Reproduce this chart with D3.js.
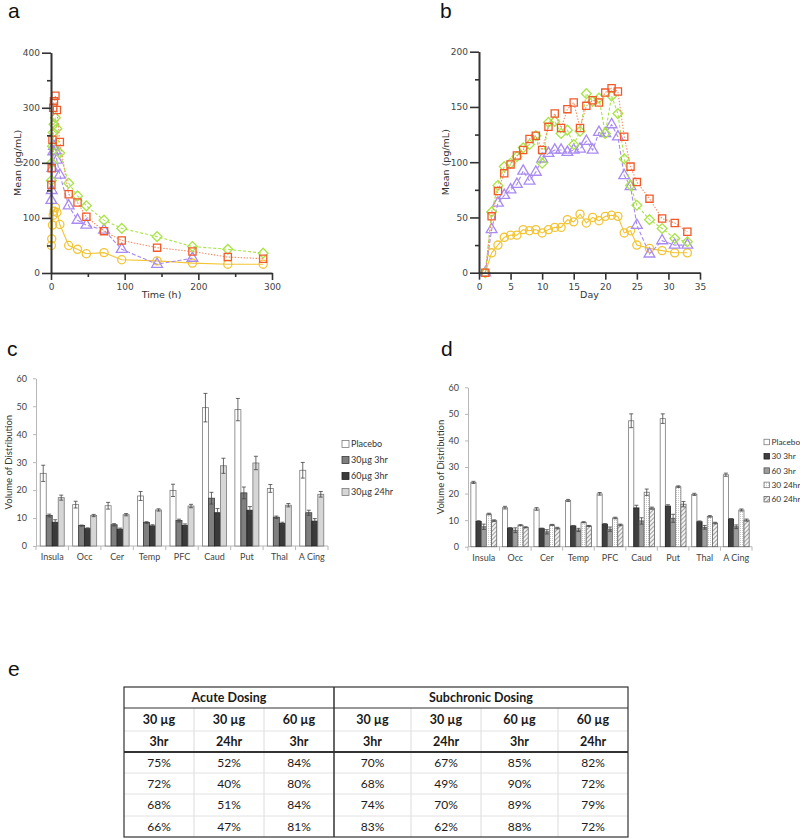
<!DOCTYPE html>
<html lang="en">
<head>
<meta charset="utf-8">
<title>Plasma levels, distribution volume and occupancy</title>
<script src="https://d3js.org/d3.v7.min.js"></script>
<style>
  body { margin: 0; background: #fff; }
  svg { display: block; font-family: "DejaVu Sans", sans-serif; }
  .panel-label { font-family: "Liberation Sans", Arial, sans-serif; font-size: 21px; fill: #111; }
  .pk-axis path, .pk-axis line { stroke: #333; stroke-width: 1.6; }
  .pk-axis text { font-size: 9px; fill: #444; font-family: "DejaVu Sans", sans-serif; }
  .pk-title { font-size: 9.5px; fill: #333; }
  .bar-axis path, .bar-axis line { stroke: #b8b8b8; }
  .bar-axis text { font-size: 9px; fill: #444; font-family: Lato, "Open Sans", sans-serif; }
  .bar-title { font-size: 9.5px; fill: #333; font-family: Lato, "Open Sans", sans-serif; }
  .legend text { font-size: 9px; fill: #333; font-family: Lato, "Open Sans", sans-serif; }
  .legend.narrow text { font-size: 8.3px; }
  .tbl text { font-family: Lato, "Open Sans", sans-serif; fill: #1a1a1a; }
</style>
</head>
<body>
<svg id="fig"></svg>
<script>
// ---- panel a: single dose time course (pg/mL)
var pkTimes  = [0.5, 1, 2, 3, 4, 6, 8, 12, 24, 36, 48, 72, 96, 144, 192, 240, 288];
var pkGreen  = [168, 200, 230, 255, 270, 282, 262, 218, 163, 140, 122, 96, 81, 66, 48, 43, 36];
var pkOrange = [160, 190, 242, 300, 312, 322, 296, 238, 143, 128, 102, 76, 59, 46, 39, 29, 26];
var pkPurple = [132, 150, 190, 220, 230, 222, 205, 178, 122, 96, 87, 78, 43, 16, 27, null, null];
var pkYellow = [50, 62, 87, 105, 112, 119, 110, 88, 50, 43, 35, 37, 24, 22, 18, 16, 16];

// ---- panel b: repeated dosing by day
var days      = [1, 2, 3, 4, 5, 6, 7, 8, 9, 10, 11, 12, 13, 14, 15, 16, 17, 18, 19, 20, 21, 22, 23, 24, 25, 27, 29, 31, 33];
var dayGreen  = [0, 55, 79, 96, 99, 105, 113, 116, 124, 99, 136, 137, 126, 129, 116, 128, 162, 155, 158, 126, 160, 144, 103, 79, 61, 48, 40, 31, 28];
var dayOrange = [0, 51, 74, 90, 98, 106, 111, 121, 124, 111, 132, 144, 131, 148, 154, 131, 151, 156, 154, 163, 167, 164, 123, 96, 82, 67, 49, 45, 37];
var dayPurple = [0, 39, 63, 70, 75, 80, 92, 83, 91, 103, 108, 111, 111, 109, 111, 112, 119, 111, 127, 126, 134, 123, 88, 78, 43, 17, 29, 25, 25];
var dayYellow = [0, 18, 25, 32, 34, 34, 39, 38, 39, 36, 39, 41, 41, 48, 46, 53, 45, 50, 47, 51, 52, 51, 36, 38, 25, 22, 20, 18, 18];

// ---- panels c and d: volume of distribution per region
var regions = ["Insula", "Occ", "Cer", "Temp", "PFC", "Caud", "Put", "Thal", "A Cing"];

var acuteNames = ["Placebo", "30µg 3hr", "60µg 3hr", "30µg 24hr"];
var acutePlacebo = [26.0, 14.8, 14.4, 17.9, 19.9, 49.5, 48.8, 20.6, 27.1];
var acutePlaceboErr = [2.9, 1.2, 1.2, 1.6, 2.2, 5.1, 4.0, 1.4, 2.8];
var acute30_3 = [10.9, 7.3, 7.6, 8.4, 9.1, 17.1, 19.0, 10.3, 11.9];
var acute30_3Err = [0.5, 0.2, 0.4, 0.3, 0.5, 2.1, 2.1, 0.4, 0.9];
var acute60_3 = [8.5, 6.2, 6.0, 7.2, 7.4, 11.9, 12.8, 8.1, 8.9];
var acute60_3Err = [0.9, 0.3, 0.4, 0.4, 0.5, 1.5, 1.3, 0.4, 0.9];
var acute30_24 = [17.3, 10.9, 11.2, 12.9, 14.3, 28.7, 29.7, 14.6, 18.5];
var acute30_24Err = [0.9, 0.4, 0.4, 0.4, 0.6, 2.7, 2.4, 0.6, 1.0];

var subNames = ["Placebo", "30 3hr", "60 3hr", "30 24hr", "60 24hr"];
var subPlacebo = [24.2, 14.7, 14.2, 17.4, 19.9, 47.4, 48.2, 19.7, 27.1];
var subPlaceboErr = [0.4, 0.5, 0.5, 0.4, 0.5, 2.6, 1.8, 0.4, 0.6];
var sub30_3 = [9.5, 7.0, 6.8, 7.8, 8.5, 14.6, 15.3, 9.4, 10.4];
var sub30_3Err = [0.3, 0.2, 0.2, 0.2, 0.2, 1.0, 0.5, 0.3, 0.2];
var sub60_3 = [7.5, 6.2, 5.6, 6.3, 6.6, 9.7, 10.7, 7.3, 7.5];
var sub60_3Err = [1.0, 0.9, 0.8, 0.6, 0.8, 1.2, 1.5, 0.7, 0.7];
var sub30_24 = [12.3, 8.1, 8.2, 9.2, 10.8, 20.5, 22.6, 11.4, 13.8];
var sub30_24Err = [0.3, 0.2, 0.2, 0.2, 0.3, 1.2, 0.3, 0.3, 0.4];
var sub60_24 = [9.8, 7.3, 7.0, 7.8, 8.2, 14.5, 16.0, 8.9, 10.0];
var sub60_24Err = [0.3, 0.2, 0.3, 0.2, 0.3, 0.4, 1.0, 0.3, 0.4];

// ---- panel e: occupancy table
var acuteCols = [["30 µg", "3hr"], ["30 µg", "24hr"], ["60 µg", "3hr"]];
var subCols = [["30 µg", "3hr"], ["30 µg", "24hr"], ["60 µg", "3hr"], ["60 µg", "24hr"]];
var occAcute30_3 = ["75%", "72%", "68%", "66%"];
var occAcute30_24 = ["52%", "40%", "51%", "47%"];
var occAcute60_3 = ["84%", "80%", "84%", "81%"];
var occSub30_3 = ["70%", "68%", "74%", "83%"];
var occSub30_24 = ["67%", "49%", "70%", "62%"];
var occSub60_3 = ["85%", "90%", "89%", "88%"];
var occSub60_24 = ["82%", "72%", "79%", "72%"];

var width = 800, height = 839;
var svg = d3.select("#fig").attr("width", width).attr("height", height);

// patterns for the hatched bars
var defs = svg.append("defs");
var dots = defs.append("pattern").attr("id", "dots").attr("patternUnits", "userSpaceOnUse")
    .attr("width", 2).attr("height", 2);
dots.append("rect").attr("width", 2).attr("height", 2).attr("fill", "#fff");
dots.append("rect").attr("width", 1).attr("height", 1).attr("fill", "#c8c8c8");
var hatch = defs.append("pattern").attr("id", "hatch").attr("patternUnits", "userSpaceOnUse")
    .attr("width", 3).attr("height", 3).attr("patternTransform", "rotate(45)");
hatch.append("rect").attr("width", 3).attr("height", 3).attr("fill", "#f2f2f2");
hatch.append("line").attr("x1", 0).attr("y1", 0).attr("x2", 0).attr("y2", 3)
    .attr("stroke", "#777").attr("stroke-width", 1.3);

var squareDiamond = {
    draw: function (ctx, size) {
        var r = Math.sqrt(size / 2);
        ctx.moveTo(0, -r); ctx.lineTo(r, 0); ctx.lineTo(0, r); ctx.lineTo(-r, 0); ctx.closePath();
    }
};

var pkStyles = [
    { color: "#f2c536", line: "#f2c536", dash: null, symbol: d3.symbolCircle, size: 52 },
    { color: "#a98af2", line: "#a98af2", dash: "4,2", symbol: d3.symbolTriangle, size: 50 },
    { color: "#a8e446", line: "#a8e446", dash: "3,2", symbol: squareDiamond, size: 48 },
    { color: "#f25a2a", line: "#f39068", dash: "1.5,1.5", symbol: d3.symbolSquare, size: 52 }
];

function drawLineChart(o) {
    var g = svg.append("g");
    var x = d3.scaleLinear().domain(o.xDomain).range([o.left, o.right]);
    var y = d3.scaleLinear().domain(o.yDomain).range([o.bottom, o.top]);

    o.series.forEach(function (vals, i) {
        var st = pkStyles[i];
        var pts = o.xs.map(function (t, j) { return { t: t, v: vals[j] }; })
            .filter(function (d) { return d.v != null; });
        g.append("path").datum(pts)
            .attr("d", d3.line().x(function (d) { return x(d.t); }).y(function (d) { return y(d.v); }))
            .attr("fill", "none").attr("stroke", st.line).attr("stroke-width", 1.1)
            .attr("stroke-dasharray", st.dash);
        g.selectAll(null).data(pts).join("path")
            .attr("transform", function (d) { return "translate(" + x(d.t) + "," + y(d.v) + ")"; })
            .attr("d", d3.symbol().type(st.symbol).size(st.size))
            .attr("fill", "none").attr("stroke", st.color).attr("stroke-width", 1.3);
    });

    g.append("g").attr("class", "pk-axis").attr("transform", "translate(0," + o.bottom + ")")
        .call(d3.axisBottom(x).tickValues(o.xMinor).tickFormat("").tickSize(4).tickSizeOuter(0));
    g.append("g").attr("class", "pk-axis").attr("transform", "translate(0," + o.bottom + ")")
        .call(d3.axisBottom(x).tickValues(o.xMajor).tickSize(7).tickSizeOuter(0).tickPadding(4));
    g.append("g").attr("class", "pk-axis").attr("transform", "translate(" + o.left + ",0)")
        .call(d3.axisLeft(y).tickValues(o.yMinor).tickFormat("").tickSize(4).tickSizeOuter(0));
    g.append("g").attr("class", "pk-axis").attr("transform", "translate(" + o.left + ",0)")
        .call(d3.axisLeft(y).tickValues(o.yMajor).tickSize(9).tickSizeOuter(0).tickPadding(2));

    g.append("text").attr("class", "pk-title")
        .attr("transform", "translate(" + (o.left - 30) + "," + ((o.top + o.bottom) / 2) + ") rotate(-90)")
        .attr("text-anchor", "middle").text(o.yTitle);
    g.append("text").attr("class", "pk-title")
        .attr("x", (o.left + o.right) / 2).attr("y", o.bottom + 25)
        .attr("text-anchor", "middle").text(o.xTitle);
}

drawLineChart({
    left: 51, right: 272, top: 52.7, bottom: 273,
    xDomain: [0, 300], yDomain: [0, 400],
    xMajor: [0, 100, 200, 300], xMinor: [50, 150, 250],
    yMajor: [0, 100, 200, 300, 400], yMinor: [50, 150, 250, 350],
    xs: pkTimes, series: [pkYellow, pkPurple, pkGreen, pkOrange],
    yTitle: "Mean (pg/mL)", xTitle: "Time (h)"
});

drawLineChart({
    left: 479, right: 700, top: 51.7, bottom: 272.7,
    xDomain: [0, 35], yDomain: [0, 200],
    xMajor: [0, 5, 10, 15, 20, 25, 30, 35], xMinor: [],
    yMajor: [0, 50, 100, 150, 200], yMinor: [25, 75, 125, 175],
    xs: days, series: [dayYellow, dayPurple, dayGreen, dayOrange],
    yTitle: "Mean (pg/mL)", xTitle: "Day"
});

function drawBarChart(o) {
    var g = svg.append("g");
    var x0 = d3.scaleBand().domain(regions).range([o.left, o.right])
        .paddingInner(o.padIn).paddingOuter(o.padOut);
    var x1 = d3.scaleBand().domain(d3.range(o.series.length)).range([0, x0.bandwidth()]);
    var y = d3.scaleLinear().domain([0, 60]).range([o.bottom, o.top]);

    g.append("g").attr("class", "bar-axis").attr("transform", "translate(" + o.left + ",0)")
        .call(d3.axisLeft(y).tickValues([0, 10, 20, 30, 40, 50, 60]).tickSize(3).tickSizeOuter(0).tickPadding(6));

    var xa = g.append("g").attr("class", "bar-axis").attr("transform", "translate(0," + o.bottom + ")")
        .call(d3.axisBottom(x0).tickSize(0).tickPadding(8));
    xa.select(".domain").attr("d", "M" + o.left + ",0H" + o.right);
    xa.selectAll(".sep").data(d3.range(regions.length + 1)).join("line")
        .attr("x1", function (i) { return o.left + i * (o.right - o.left) / regions.length; })
        .attr("x2", function (i) { return o.left + i * (o.right - o.left) / regions.length; })
        .attr("y1", 0).attr("y2", 4).attr("stroke", "#b8b8b8");

    o.series.forEach(function (s, si) {
        var grp = g.append("g");
        grp.selectAll("rect").data(s.values).join("rect")
            .attr("x", function (d, i) { return x0(regions[i]) + x1(si); })
            .attr("y", function (d) { return y(d); })
            .attr("width", x1.bandwidth())
            .attr("height", function (d) { return o.bottom - y(d); })
            .attr("fill", s.fill).attr("stroke", s.stroke).attr("stroke-width", 0.8);
        var eb = grp.selectAll("g.err").data(s.values).join("g").attr("class", "err")
            .attr("stroke", "#444").attr("stroke-width", 0.8);
        eb.append("line")
            .attr("x1", function (d, i) { return x0(regions[i]) + x1(si) + x1.bandwidth() / 2; })
            .attr("x2", function (d, i) { return x0(regions[i]) + x1(si) + x1.bandwidth() / 2; })
            .attr("y1", function (d, i) { return y(d - s.err[i]); })
            .attr("y2", function (d, i) { return y(d + s.err[i]); });
        [-1, 1].forEach(function (sgn) {
            eb.append("line")
                .attr("x1", function (d, i) { return x0(regions[i]) + x1(si) + x1.bandwidth() / 2 - 2; })
                .attr("x2", function (d, i) { return x0(regions[i]) + x1(si) + x1.bandwidth() / 2 + 2; })
                .attr("y1", function (d, i) { return y(d + sgn * s.err[i]); })
                .attr("y2", function (d, i) { return y(d + sgn * s.err[i]); });
        });
    });

    g.append("text").attr("class", "bar-title")
        .attr("transform", "translate(" + o.titleX + "," + ((o.top + o.bottom) / 2) + ") rotate(-90)")
        .attr("text-anchor", "middle").text("Volume of Distribution");

    var lg = g.append("g").attr("class", "legend" + (o.narrow ? " narrow" : ""));
    var items = lg.selectAll("g").data(o.series).join("g")
        .attr("transform", function (d, i) { return "translate(" + o.legendX + "," + (o.legendY + i * o.legendStep) + ")"; });
    items.append("rect").attr("x", 0).attr("y", -o.swatch / 2).attr("width", o.swatch).attr("height", o.swatch)
        .attr("fill", function (d) { return d.fill; }).attr("stroke", function (d) { return d.stroke; })
        .attr("stroke-width", 0.8);
    items.append("text").attr("x", o.swatch + 2).attr("dy", "0.35em").text(function (d, i) { return o.names[i]; });
}

drawBarChart({
    left: 36, right: 328, top: 378.3, bottom: 546, padIn: 0.26, padOut: 0.13,
    titleX: 12, legendX: 342, legendY: 444, legendStep: 16, names: acuteNames, swatch: 7,
    series: [
        { values: acutePlacebo, err: acutePlaceboErr, fill: "#ffffff", stroke: "#7a7a7a" },
        { values: acute30_3, err: acute30_3Err, fill: "#7f7f7f", stroke: "#3a3a3a" },
        { values: acute60_3, err: acute60_3Err, fill: "#3a3a3a", stroke: "#222" },
        { values: acute30_24, err: acute30_24Err, fill: "#d6d6d6", stroke: "#7a7a7a" }
    ]
});

drawBarChart({
    left: 468, right: 752, top: 387.3, bottom: 546.7, padIn: 0.18, padOut: 0.09,
    titleX: 444, legendX: 764, legendY: 442, legendStep: 14.3, names: subNames, swatch: 5.5, narrow: true,
    series: [
        { values: subPlacebo, err: subPlaceboErr, fill: "#ffffff", stroke: "#7a7a7a" },
        { values: sub30_3, err: sub30_3Err, fill: "#3f3f3f", stroke: "#222" },
        { values: sub60_3, err: sub60_3Err, fill: "#9c9c9c", stroke: "#555" },
        { values: sub30_24, err: sub30_24Err, fill: "url(#dots)", stroke: "#7a7a7a" },
        { values: sub60_24, err: sub60_24Err, fill: "url(#hatch)", stroke: "#666" }
    ]
});

// ---- table e
var colEdges = [124, 194, 264, 334, 411, 481, 558, 628];
var rowEdges = [687, 708, 731, 752, 773, 794, 816, 837];
var tbl = svg.append("g").attr("class", "tbl");
var cols = [occAcute30_3, occAcute30_24, occAcute60_3, occSub30_3, occSub30_24, occSub60_3, occSub60_24];
var heads = acuteCols.concat(subCols);

// light inner grid
d3.range(1, colEdges.length - 1).forEach(function (i) {
    if (i === 3) return;
    tbl.append("line").attr("x1", colEdges[i]).attr("x2", colEdges[i])
        .attr("y1", rowEdges[1]).attr("y2", rowEdges[7]).attr("stroke", "#dcdcdc");
});
[2, 4, 5, 6].forEach(function (r) {
    tbl.append("line").attr("x1", colEdges[0]).attr("x2", colEdges[7])
        .attr("y1", rowEdges[r]).attr("y2", rowEdges[r]).attr("stroke", "#e2e2e2");
});
tbl.append("line").attr("x1", colEdges[0]).attr("x2", colEdges[7])
    .attr("y1", rowEdges[1]).attr("y2", rowEdges[1]).attr("stroke", "#333");
tbl.append("line").attr("x1", colEdges[0]).attr("x2", colEdges[7])
    .attr("y1", rowEdges[3]).attr("y2", rowEdges[3]).attr("stroke", "#333").attr("stroke-width", 2);
tbl.append("line").attr("x1", colEdges[3]).attr("x2", colEdges[3])
    .attr("y1", rowEdges[0]).attr("y2", rowEdges[7]).attr("stroke", "#333").attr("stroke-width", 1.5);
tbl.append("rect").attr("x", colEdges[0]).attr("y", rowEdges[0])
    .attr("width", colEdges[7] - colEdges[0]).attr("height", rowEdges[7] - rowEdges[0])
    .attr("fill", "none").attr("stroke", "#333").attr("stroke-width", 1.2);

function midY(r) { return (rowEdges[r] + rowEdges[r + 1]) / 2; }
function midX(c) { return (colEdges[c] + colEdges[c + 1]) / 2; }

tbl.append("text").attr("x", (colEdges[0] + colEdges[3]) / 2).attr("y", midY(0)).attr("dy", "0.35em")
    .attr("text-anchor", "middle").attr("font-weight", "bold").attr("font-size", 12.5).text("Acute Dosing");
tbl.append("text").attr("x", (colEdges[3] + colEdges[7]) / 2).attr("y", midY(0)).attr("dy", "0.35em")
    .attr("text-anchor", "middle").attr("font-weight", "bold").attr("font-size", 12.5).text("Subchronic Dosing");

heads.forEach(function (h, c) {
    h.forEach(function (line, k) {
        tbl.append("text").attr("x", midX(c)).attr("y", midY(1 + k)).attr("dy", "0.35em")
            .attr("text-anchor", "middle").attr("font-weight", "bold").attr("font-size", 12.5).text(line);
    });
});
cols.forEach(function (vals, c) {
    vals.forEach(function (v, r) {
        tbl.append("text").attr("x", midX(c)).attr("y", midY(3 + r)).attr("dy", "0.35em")
            .attr("text-anchor", "middle").attr("font-size", 12).attr("fill", "#333").text(v);
    });
});

// panel letters
[["a", 8, 18], ["b", 440, 18], ["c", 7, 356], ["d", 441, 356], ["e", 8, 676]].forEach(function (p) {
    svg.append("text").attr("class", "panel-label").attr("x", p[1]).attr("y", p[2]).text(p[0]);
});
</script>
</body>
</html>
